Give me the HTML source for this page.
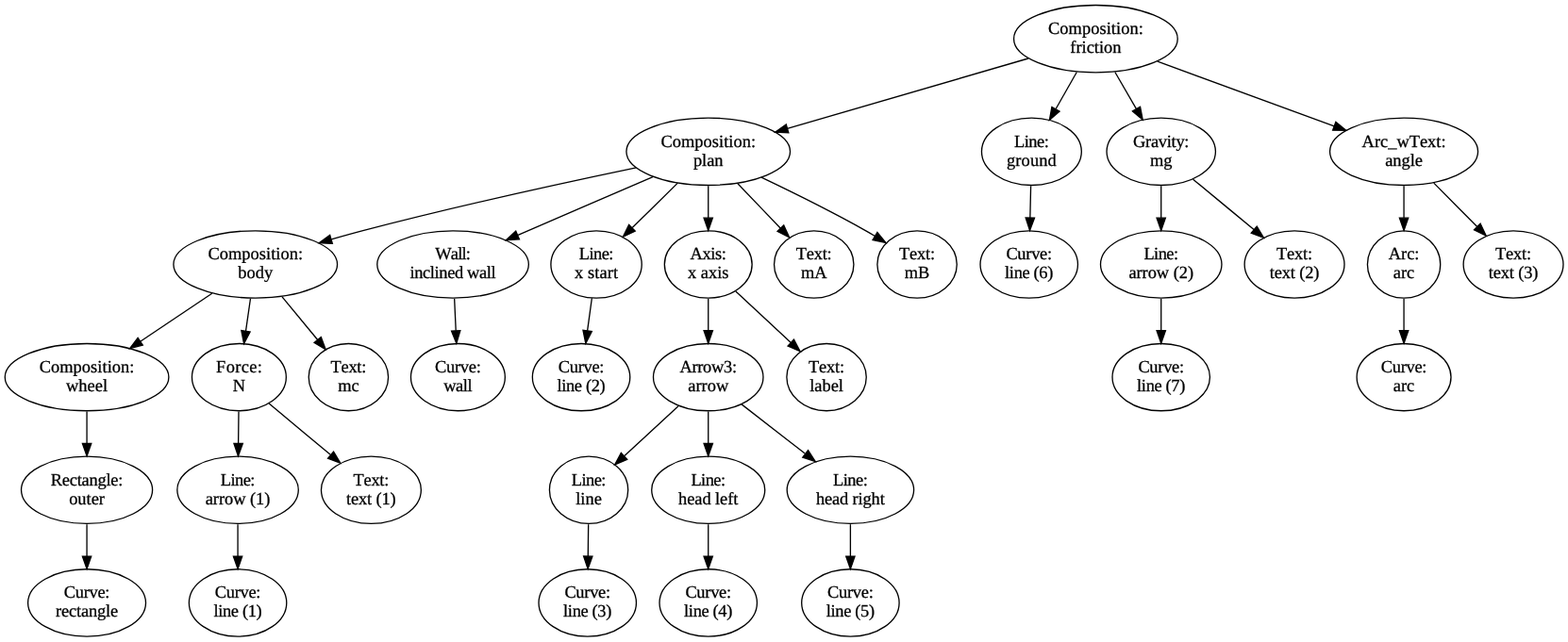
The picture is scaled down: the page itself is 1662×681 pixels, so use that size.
<!DOCTYPE html>
<html lang="en">
<head>
<meta charset="utf-8">
<title>friction composition tree</title>
<style>
html,body{margin:0;padding:0;background:#fff;}
body{width:1662px;height:681px;overflow:hidden;}
svg{display:block;filter:grayscale(1);}
.n ellipse{fill:none;stroke:#000;stroke-width:1;}
.e path{fill:none;stroke:#000;stroke-width:1;}
.e polygon{fill:#000;stroke:#000;stroke-width:1;}
.t text{font-family:"Liberation Serif","Times New Roman",Times,serif;font-size:13.8px;text-anchor:middle;fill:#000;text-rendering:geometricPrecision;font-kerning:none;font-variant-ligatures:none;stroke:#000;stroke-width:0.22;stroke-linejoin:round;}
</style>
</head>
<body>
<svg width="1662" height="681" viewBox="0 0 1246.5 510.75">
<rect x="0" y="0" width="1246.5" height="510.75" fill="#fff"/>
<g class="e">
<path d="M817.42,46.50L625.89,102.30"/><polygon points="624.92,98.94 616.29,105.10 626.87,105.66 624.92,98.94"/>
<path d="M855.98,57.38L839.25,86.83"/><polygon points="836.21,85.10 834.31,95.52 842.29,88.56 836.21,85.10"/>
<path d="M886.39,57.35L903.38,86.67"/><polygon points="900.35,88.42 908.40,95.32 906.41,84.91 900.35,88.42"/>
<path d="M920.16,48.86L1060.69,100.33"/><polygon points="1059.49,103.62 1070.08,103.77 1061.90,97.05 1059.49,103.62"/>
<path d="M505.72,133.40C449.89,145.06 363.13,163.93 288.54,183.48 280.40,185.61 271.86,188.00 263.45,190.43"/><polygon points="264.26,193.80 253.67,193.29 262.26,187.09 264.26,193.80"/>
<path d="M519.01,140.65C487.48,154.27 444.94,172.66 411.80,186.98"/><polygon points="412.85,190.34 402.28,191.10 410.07,183.92 412.85,190.34"/>
<path d="M538.73,145.58C527.59,156.57 514.30,169.67 502.67,181.13"/><polygon points="504.89,183.86 495.31,188.39 499.98,178.88 504.89,183.86"/>
<path d="M563.05,147.93C563.05,155.90 563.05,164.79 563.05,173.28"/><polygon points="566.55,173.35 563.05,183.35 559.55,173.35 566.55,173.35"/>
<path d="M586.45,146.05C597.05,157.11 609.62,170.24 620.55,181.67"/><polygon points="623.08,179.25 627.47,188.89 618.03,184.09 623.08,179.25"/>
<path d="M605.28,141.17C629.77,152.85 661.02,168.32 688.05,183.48 690.53,184.87 693.07,186.34 695.61,187.85"/><polygon points="697.43,184.87 704.15,193.06 693.79,190.84 697.43,184.87"/>
<path d="M168.55,233.46L111.53,271.64"/><polygon points="109.58,268.73 103.22,277.20 113.48,274.55 109.58,268.73"/>
<path d="M199.11,237.57L195.36,263.47"/><polygon points="191.89,262.96 193.92,273.36 198.82,263.97 191.89,262.96"/>
<path d="M224.28,236.10L252.52,270.34"/><polygon points="249.82,272.57 258.88,278.06 255.22,268.12 249.82,272.57"/>
<path d="M69.05,327.41C69.05,335.38 69.05,344.27 69.05,352.76"/><polygon points="72.55,352.83 69.05,362.83 65.55,352.83 72.55,352.83"/>
<path d="M69.05,417.15C69.05,425.12 69.05,434.01 69.05,442.50"/><polygon points="72.55,442.57 69.05,452.57 65.55,442.57 72.55,442.57"/>
<path d="M189.75,327.41C189.66,335.38 189.56,344.27 189.46,352.76"/><polygon points="192.96,352.87 189.35,362.83 185.96,352.79 192.96,352.87"/>
<path d="M213.88,321.00C228.31,333.05 246.90,348.59 262.65,361.75"/><polygon points="265.16,359.29 270.59,368.39 260.68,364.66 265.16,359.29"/>
<path d="M189.05,417.15C189.05,425.12 189.05,434.01 189.05,442.50"/><polygon points="192.55,442.57 189.05,452.57 185.55,442.57 192.55,442.57"/>
<path d="M361.25,237.67C361.62,245.64 362.02,254.53 362.41,263.02"/><polygon points="365.91,262.94 362.87,273.09 358.92,263.26 365.91,262.94"/>
<path d="M470.52,237.20C469.41,245.34 468.16,254.48 466.96,263.18"/><polygon points="470.43,263.69 465.61,273.12 463.49,262.74 470.43,263.69"/>
<path d="M563.05,237.67C563.05,245.64 563.05,254.53 563.05,263.02"/><polygon points="566.55,263.09 563.05,273.09 559.55,263.09 566.55,263.09"/>
<path d="M584.86,231.70C597.85,243.83 614.50,259.37 628.53,272.47"/><polygon points="631.09,270.07 636.02,279.45 626.32,275.19 631.09,270.07"/>
<path d="M539.08,323.23C526.12,335.20 510.04,350.05 496.46,362.60"/><polygon points="498.51,365.46 488.79,369.68 493.76,360.32 498.51,365.46"/>
<path d="M563.05,327.41C563.05,335.38 563.05,344.27 563.05,352.76"/><polygon points="566.55,352.83 563.05,362.83 559.55,352.83 566.55,352.83"/>
<path d="M589.55,321.66C604.55,333.31 623.52,348.04 639.87,360.74"/><polygon points="642.40,358.27 648.15,367.16 638.10,363.79 642.40,358.27"/>
<path d="M467.75,417.15C467.66,425.12 467.56,434.01 467.46,442.50"/><polygon points="470.96,442.61 467.35,452.57 463.96,442.53 470.96,442.61"/>
<path d="M563.05,417.15C563.05,425.12 563.05,434.01 563.05,442.50"/><polygon points="566.55,442.57 563.05,452.57 559.55,442.57 566.55,442.57"/>
<path d="M676.05,417.15C676.05,425.12 676.05,434.01 676.05,442.50"/><polygon points="679.55,442.57 676.05,452.57 672.55,442.57 679.55,442.57"/>
<path d="M819.45,147.93C819.27,155.90 819.07,164.79 818.88,173.28"/><polygon points="822.37,173.43 818.65,183.35 815.38,173.27 822.37,173.43"/>
<path d="M923.05,147.93C923.05,155.90 923.05,164.79 923.05,173.28"/><polygon points="926.55,173.35 923.05,183.35 919.55,173.35 926.55,173.35"/>
<path d="M948.44,142.63C962.94,154.63 981.27,169.80 996.78,182.64"/><polygon points="999.13,180.04 1004.60,189.11 994.67,185.43 999.13,180.04"/>
<path d="M923.05,237.67C923.05,245.64 923.05,254.53 923.05,263.02"/><polygon points="926.55,263.09 923.05,273.09 919.55,263.09 926.55,263.09"/>
<path d="M1116.05,147.93C1116.05,155.90 1116.05,164.79 1116.05,173.28"/><polygon points="1119.55,173.35 1116.05,183.35 1112.55,173.35 1119.55,173.35"/>
<path d="M1139.83,145.58C1150.47,156.32 1163.12,169.08 1174.30,180.35"/><polygon points="1176.84,177.94 1181.39,187.51 1171.87,182.87 1176.84,177.94"/>
<path d="M1116.05,237.67C1116.05,245.64 1116.05,254.53 1116.05,263.02"/><polygon points="1119.55,263.09 1116.05,273.09 1112.55,263.09 1119.55,263.09"/>
</g>
<g class="n">
<ellipse cx="871.05" cy="30.87" rx="65.11" ry="26.74"/>
<ellipse cx="563.05" cy="120.61" rx="65.11" ry="26.74"/>
<ellipse cx="203.05" cy="210.35" rx="65.11" ry="26.74"/>
<ellipse cx="69.05" cy="300.09" rx="65.11" ry="26.74"/>
<ellipse cx="69.05" cy="389.83" rx="52.15" ry="26.74"/>
<ellipse cx="69.05" cy="479.57" rx="46.84" ry="26.74"/>
<ellipse cx="190.05" cy="300.09" rx="37.45" ry="26.74"/>
<ellipse cx="189.05" cy="389.83" rx="48.17" ry="26.74"/>
<ellipse cx="189.05" cy="479.57" rx="38.78" ry="26.74"/>
<ellipse cx="295.05" cy="389.83" rx="39.70" ry="26.74"/>
<ellipse cx="277.05" cy="300.09" rx="31.64" ry="26.74"/>
<ellipse cx="360.05" cy="210.35" rx="60.21" ry="26.74"/>
<ellipse cx="364.05" cy="300.09" rx="37.45" ry="26.74"/>
<ellipse cx="474.05" cy="210.35" rx="36.12" ry="26.74"/>
<ellipse cx="462.05" cy="300.09" rx="38.78" ry="26.74"/>
<ellipse cx="563.05" cy="210.35" rx="34.80" ry="26.74"/>
<ellipse cx="563.05" cy="300.09" rx="43.68" ry="26.74"/>
<ellipse cx="468.05" cy="389.83" rx="31.23" ry="26.74"/>
<ellipse cx="467.05" cy="479.57" rx="38.78" ry="26.74"/>
<ellipse cx="563.05" cy="389.83" rx="45.01" ry="26.74"/>
<ellipse cx="563.05" cy="479.57" rx="38.78" ry="26.74"/>
<ellipse cx="676.05" cy="389.83" rx="50.41" ry="26.74"/>
<ellipse cx="676.05" cy="479.57" rx="38.78" ry="26.74"/>
<ellipse cx="657.05" cy="300.09" rx="31.64" ry="26.74"/>
<ellipse cx="647.05" cy="210.35" rx="31.64" ry="26.74"/>
<ellipse cx="729.05" cy="210.35" rx="31.64" ry="26.74"/>
<ellipse cx="820.05" cy="120.61" rx="39.70" ry="26.74"/>
<ellipse cx="818.05" cy="210.35" rx="38.78" ry="26.74"/>
<ellipse cx="923.05" cy="120.61" rx="43.27" ry="26.74"/>
<ellipse cx="923.05" cy="210.35" rx="48.17" ry="26.74"/>
<ellipse cx="923.05" cy="300.09" rx="38.78" ry="26.74"/>
<ellipse cx="1029.05" cy="210.35" rx="39.70" ry="26.74"/>
<ellipse cx="1116.05" cy="120.61" rx="58.88" ry="26.74"/>
<ellipse cx="1116.05" cy="210.35" rx="28.98" ry="26.74"/>
<ellipse cx="1116.05" cy="300.09" rx="37.45" ry="26.74"/>
<ellipse cx="1203.05" cy="210.35" rx="39.70" ry="26.74"/>
</g>
<g class="t">
<text x="871.05" y="27.07" textLength="75.53">Composition:</text><text x="871.05" y="42.07">friction</text>
<text x="563.05" y="116.81" textLength="75.53">Composition:</text><text x="563.05" y="131.81">plan</text>
<text x="203.05" y="206.55" textLength="75.53">Composition:</text><text x="203.05" y="221.55">body</text>
<text x="69.05" y="296.29" textLength="75.53">Composition:</text><text x="69.05" y="311.29">wheel</text>
<text x="69.05" y="386.03" textLength="57.53">Rectangle:</text><text x="69.05" y="401.03">outer</text>
<text x="69.05" y="475.77" textLength="36.53">Curve:</text><text x="69.05" y="490.77" textLength="49.50">rectangle</text>
<text x="190.05" y="296.29" textLength="36.53">Force:</text><text x="190.05" y="311.29">N</text>
<text x="189.05" y="386.03" textLength="27.53">Line:</text><text x="189.05" y="401.03" textLength="51.53">arrow (1)</text>
<text x="189.05" y="475.77" textLength="36.53">Curve:</text><text x="189.05" y="490.77" textLength="38.47">line (1)</text>
<text x="295.05" y="386.03" textLength="28.50">Text:</text><text x="295.05" y="401.03" textLength="39.53">text (1)</text>
<text x="277.05" y="296.29" textLength="28.50">Text:</text><text x="277.05" y="311.29">mc</text>
<text x="360.05" y="206.55" textLength="28.12">Wall:</text><text x="360.05" y="221.55" textLength="68.47">inclined wall</text>
<text x="364.05" y="296.29" textLength="36.53">Curve:</text><text x="364.05" y="311.29" textLength="22.73">wall</text>
<text x="474.05" y="206.55" textLength="27.53">Line:</text><text x="474.05" y="221.55" textLength="34.50">x start</text>
<text x="462.05" y="296.29" textLength="36.53">Curve:</text><text x="462.05" y="311.29" textLength="38.47">line (2)</text>
<text x="563.05" y="206.55" textLength="28.80">Axis:</text><text x="563.05" y="221.55" textLength="32.47">x axis</text>
<text x="563.05" y="296.29" textLength="45.53">Arrow3:</text><text x="563.05" y="311.29">arrow</text>
<text x="468.05" y="386.03" textLength="27.53">Line:</text><text x="468.05" y="401.03">line</text>
<text x="467.05" y="475.77" textLength="36.53">Curve:</text><text x="467.05" y="490.77" textLength="38.47">line (3)</text>
<text x="563.05" y="386.03" textLength="27.53">Line:</text><text x="563.05" y="401.03" textLength="47.47">head left</text>
<text x="563.05" y="475.77" textLength="36.53">Curve:</text><text x="563.05" y="490.77" textLength="38.47">line (4)</text>
<text x="676.05" y="386.03" textLength="27.53">Line:</text><text x="676.05" y="401.03" textLength="54.53">head right</text>
<text x="676.05" y="475.77" textLength="36.53">Curve:</text><text x="676.05" y="490.77" textLength="38.47">line (5)</text>
<text x="657.05" y="296.29" textLength="28.50">Text:</text><text x="657.05" y="311.29">label</text>
<text x="647.05" y="206.55" textLength="28.50">Text:</text><text x="647.05" y="221.55">mA</text>
<text x="729.05" y="206.55" textLength="28.50">Text:</text><text x="729.05" y="221.55">mB</text>
<text x="820.05" y="116.81" textLength="27.53">Line:</text><text x="820.05" y="131.81" textLength="39.53">ground</text>
<text x="818.05" y="206.55" textLength="36.53">Curve:</text><text x="818.05" y="221.55" textLength="38.47">line (6)</text>
<text x="923.05" y="116.81" textLength="44.62">Gravity:</text><text x="923.05" y="131.81">mg</text>
<text x="923.05" y="206.55" textLength="27.53">Line:</text><text x="923.05" y="221.55" textLength="51.53">arrow (2)</text>
<text x="923.05" y="296.29" textLength="36.53">Curve:</text><text x="923.05" y="311.29" textLength="38.47">line (7)</text>
<text x="1029.05" y="206.55" textLength="28.50">Text:</text><text x="1029.05" y="221.55" textLength="39.53">text (2)</text>
<text x="1116.05" y="116.81" textLength="66.68">Arc_wText:</text><text x="1116.05" y="131.81">angle</text>
<text x="1116.05" y="206.55" textLength="24.53">Arc:</text><text x="1116.05" y="221.55">arc</text>
<text x="1116.05" y="296.29" textLength="36.53">Curve:</text><text x="1116.05" y="311.29">arc</text>
<text x="1203.05" y="206.55" textLength="28.50">Text:</text><text x="1203.05" y="221.55" textLength="39.53">text (3)</text>
</g>
</svg>
</body>
</html>
